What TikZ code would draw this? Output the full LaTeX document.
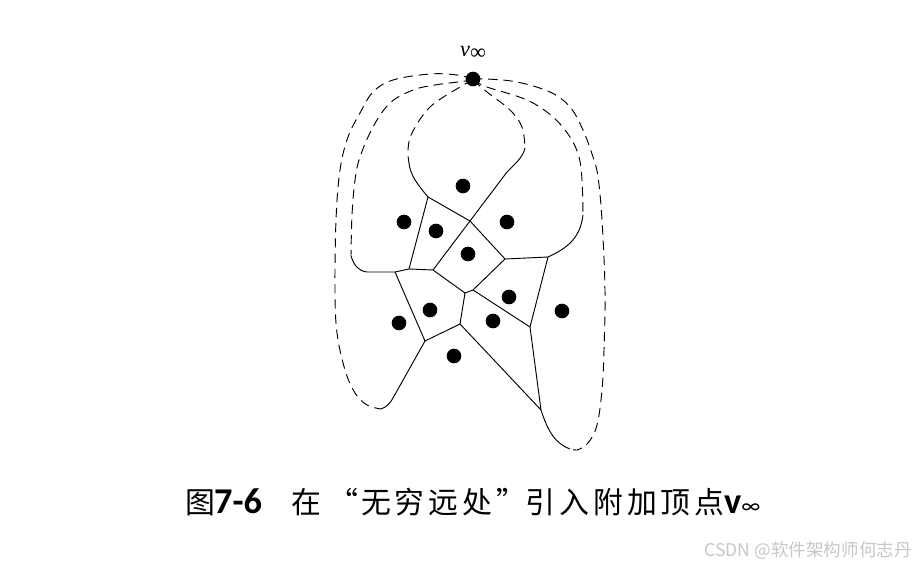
\documentclass[tikz,border=0pt]{standalone}
\usepackage{fontspec}
\setmainfont{Liberation Serif}
\newfontfamily\cjk{Noto Sans CJK SC}
\newfontfamily\latinsans{Carlito}
\newlength\pxu
\setlength\pxu{0.8504pt}
\newcommand\cbox[2]{\makebox[#1\pxu][l]{#2}}
\begin{document}
\begin{tikzpicture}[x=0.03cm,y=-0.03cm,
  edge/.style={line width=0.8pt,black},
  bound/.style={line width=0.8pt,black,dash pattern=on 8pt off 5pt},
  site/.style={circle,fill=black,inner sep=0pt,minimum size=12.5pt}]
\useasboundingbox[fill=white] (0,0) rectangle (917,567);
% vertices
\coordinate (A) at (428,197);
\coordinate (B) at (470,221);
\coordinate (C) at (505,259);
\coordinate (D) at (548,257);
\coordinate (P) at (395,272);
\coordinate (E) at (409,269);
\coordinate (F) at (433,270);
\coordinate (G) at (473,290);
\coordinate (H) at (465,293);
\coordinate (I) at (425,341);
\coordinate (J) at (460,324);
\coordinate (K) at (530,327);
\coordinate (L) at (541,410);
% Voronoi edges
\draw[edge] (A) -- (B);
\draw[edge] (A) -- (E);
\draw[edge] (B) -- (F);
\draw[edge] (B) -- (C);
\draw[edge] (P) -- (E) -- (F);
\draw[edge] (F) -- (H) -- (G);
\draw[edge] (G) -- (C);
\draw[edge] (C) -- (D);
\draw[edge] (D) -- (K);
\draw[edge] (G) -- (K);
\draw[edge] (H) -- (J);
\draw[edge] (J) -- (I);
\draw[edge] (P) -- (I);
\draw[edge] (J) -- (L);
\draw[edge] (K) -- (L);
% unbounded edges (solid parts)
\draw[edge] (I) -- (393,398) .. controls (389,405) and (386,407) .. (381,409);
\draw[edge] (P) -- (367,272) .. controls (358,271) and (354,265) .. (351,256);
\draw[edge] (A) .. controls (418,185) and (410,175) .. (409,163);
\draw[edge] (B) -- (507,172) .. controls (516,163) and (523,157) .. (525,148);
\draw[edge] (D) .. controls (565,249) and (580,240) .. (583,215);
\draw[edge] (L) .. controls (548,432) and (556,444) .. (570,449);
% dashed closures through the vertex at infinity
\draw[bound] plot[smooth,tension=0.6] coordinates {(473,79) (457,75) (430,74) (393,80) (373,92) (360,113) (348,137) (340,170) (336,220) (335,290) (337,333) (345,370) (355,393) (367,405) (381,409)};
\draw[bound] plot[smooth,tension=0.6] coordinates {(473,80) (458,82) (435,85) (413,90) (390,103) (373,127) (360,157) (355,180) (352,215) (351,256)};
\draw[bound] plot[smooth,tension=0.6] coordinates {(473,80) (460,87) (430,107) (412,133) (408,150) (409,163)};
\draw[bound] plot[smooth,tension=0.6] coordinates {(473,79) (487,79) (517,82) (550,92) (570,107) (583,130) (593,157) (598,177) (602,220) (605,290) (604,350) (602,390) (597,425) (588,443) (577,450) (570,449)};
\draw[bound] plot[smooth,tension=0.6] coordinates {(473,80) (487,87) (527,100) (553,117) (570,137) (579,157) (582,180) (583,215)};
\draw[bound] plot[smooth,tension=0.6] coordinates {(473,80) (487,92) (510,110) (522,127) (525,148)};
% sites
\node[site] (vinf) at (473,79) {};
\node[site] (s1) at (463,186) {};
\node[site] (s2) at (404,222) {};
\node[site] (s3) at (436,231) {};
\node[site] (s4) at (507,222) {};
\node[site] (s5) at (468,254) {};
\node[site] (s6) at (509,297) {};
\node[site] (s7) at (399,323) {};
\node[site] (s8) at (430,310) {};
\node[site] (s9) at (493,321) {};
\node[site] (s10) at (562,311) {};
\node[site] (s11) at (454,356) {};
% labels
\node[anchor=base west,inner sep=0pt] (vlab) at (460,57) {\fontsize{19}{21}\selectfont\itshape v\upshape\raisebox{-2.5pt}{∞}};
\node[anchor=base west,inner sep=0pt] (cap) at (185.5,513) {\fontsize{25.5}{28}\selectfont\cjk
\cbox{28.5}{图}\cbox{77.5}{\fontsize{31}{33}\selectfont\latinsans\bfseries 7-6}%
\cbox{37.5}{在}\cbox{32.5}{“}%
\cbox{34}{无}\cbox{34}{穷}\cbox{34}{远}\cbox{34}{处}\cbox{29}{”}%
\cbox{34}{引}\cbox{34}{入}\cbox{34}{附}\cbox{34}{加}\cbox{34}{顶}\cbox{29.5}{点}%
{\fontsize{31}{33}\selectfont\latinsans\bfseries v}{\fontsize{19}{20}\selectfont\latinsans ∞}};
\node[anchor=east,inner sep=0pt,text=black!22] (wm) at (912,551) {\fontsize{15}{17}\selectfont\cjk CSDN @软件架构师何志丹};
\end{tikzpicture}
\end{document}
